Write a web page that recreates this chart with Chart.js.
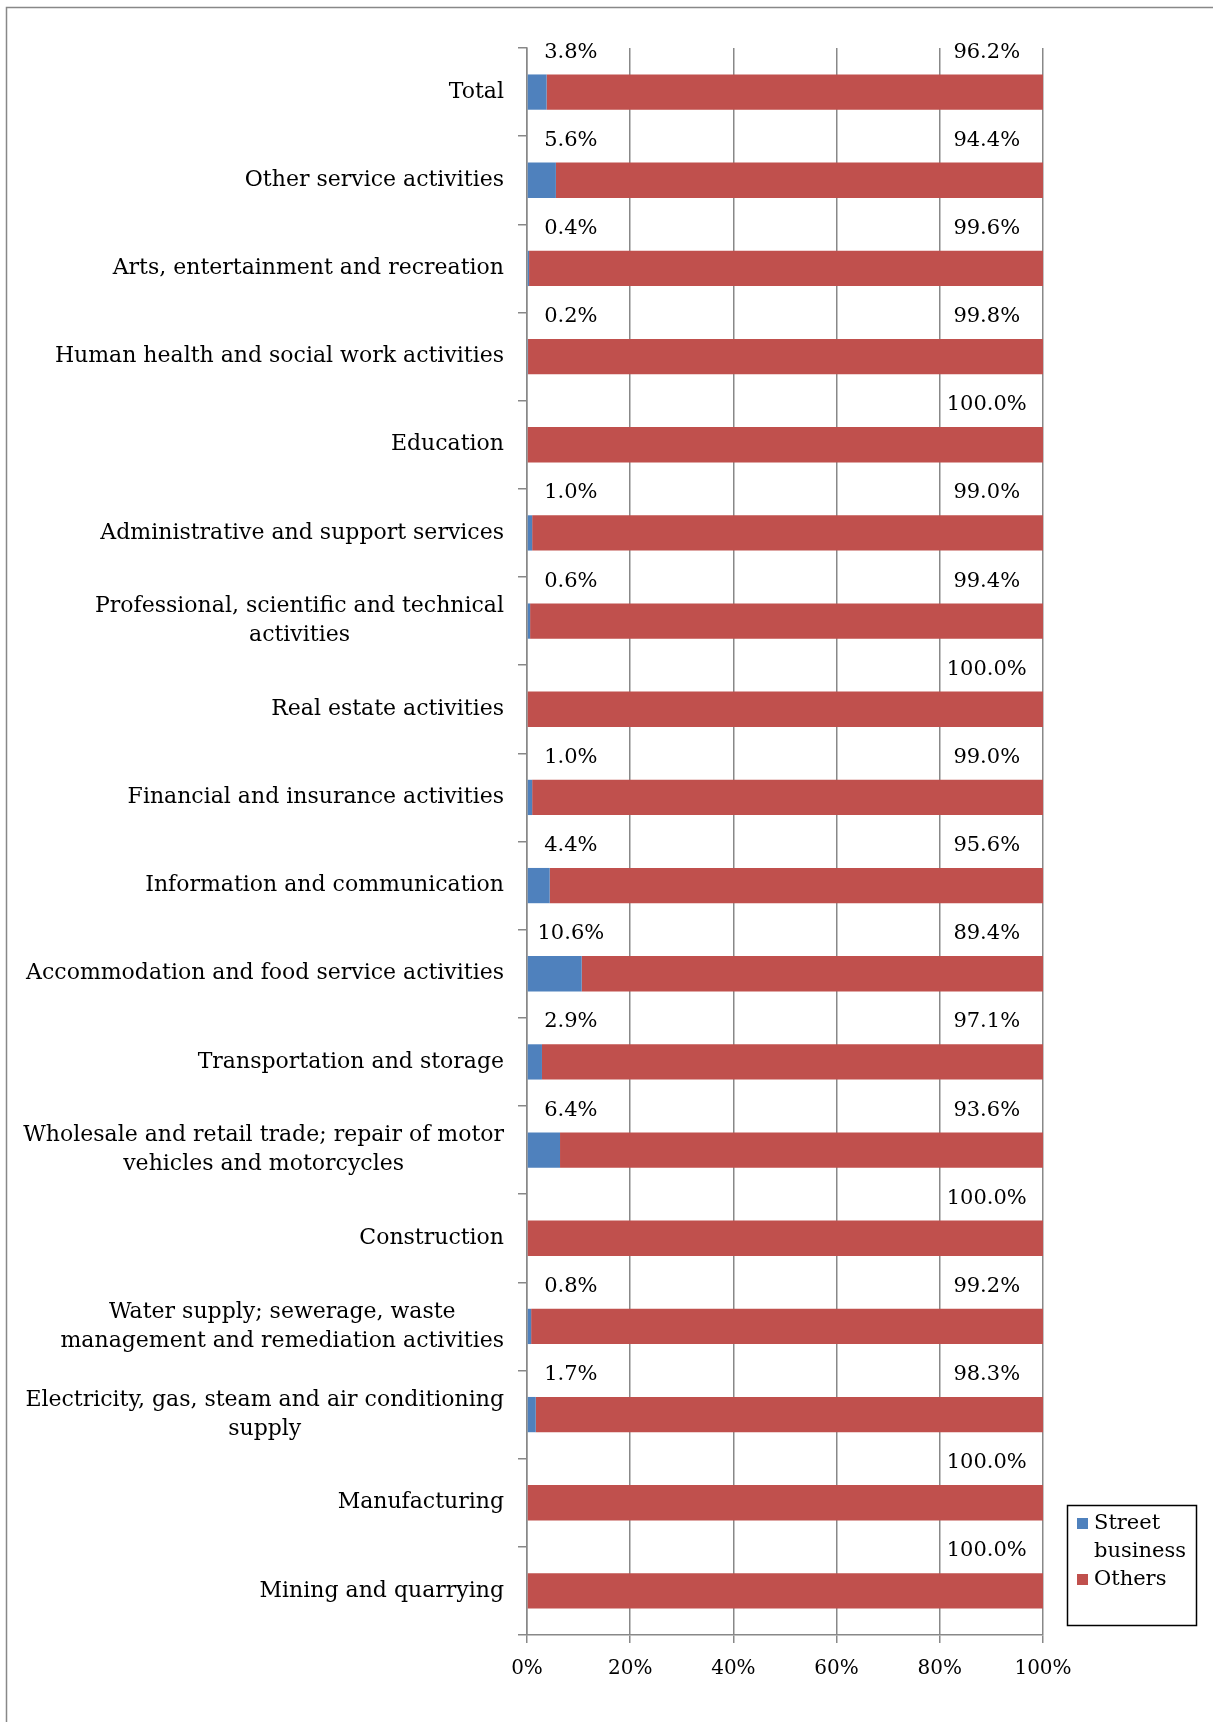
<!DOCTYPE html>
<html>
<head>
<meta charset="utf-8">
<script src="https://cdn.jsdelivr.net/npm/chart.js@4.4.0/dist/chart.umd.min.js"></script>
<style>
  body { margin: 0; background: #fff; }
  #wrap { width: 1213px; height: 1722px; position: relative; }
</style>
</head>
<body>
<div id="wrap"><canvas id="chart" width="1213" height="1722"></canvas></div>
<script>
// categories (top to bottom)
var categories = [
    "Total",
    "Other service activities",
    "Arts, entertainment and recreation",
    "Human health and social work activities",
    "Education",
    "Administrative and support services",
    ["Professional, scientific and technical", "activities"],
    "Real estate activities",
    "Financial and insurance activities",
    "Information and communication",
    "Accommodation and food service activities",
    "Transportation and storage",
    ["Wholesale and retail trade; repair of motor", "vehicles and motorcycles"],
    "Construction",
    ["Water supply; sewerage, waste", "management and remediation activities"],
    ["Electricity, gas, steam and air conditioning", "supply"],
    "Manufacturing",
    "Mining and quarrying"
];
var streetBusiness = [3.8, 5.6, 0.4, 0.2, 0, 1.0, 0.6, 0, 1.0, 4.4, 10.6, 2.9, 6.4, 0, 0.8, 1.7, 0, 0];
var others = [96.2, 94.4, 99.6, 99.8, 100, 99.0, 99.4, 100, 99.0, 95.6, 89.4, 97.1, 93.6, 100, 99.2, 98.3, 100, 100];
var seriesNames = [["Street", "business"], ["Others"]];
var xTicks = [0, 20, 40, 60, 80, 100];

var FONT = "'DejaVu Serif', serif";
var GRID = "#888888";

//__________ 框線 (outer frame, cut off at right/bottom) __________//
var framePlugin = {
    id: "frame",
    beforeDraw: function(chart){
        var c = chart.ctx;
        c.save();
        c.fillStyle = "#fff";
        c.fillRect(0, 0, chart.width, chart.height);
        c.strokeStyle = GRID;
        c.lineWidth = 1.5;
        c.beginPath();
        c.moveTo(6.5, chart.height);
        c.lineTo(6.5, 7.5);
        c.lineTo(chart.width, 7.5);
        c.stroke();
        c.restore();
    }
};

//__________ 類別標籤 (centered lines, block right aligned) __________//
var catLabelPlugin = {
    id: "catLabels",
    afterDraw: function(chart){
        var c = chart.ctx;
        var ys = chart.scales.y;
        var right = ys.right - 23;
        c.save();
        c.font = "22px " + FONT;
        c.fillStyle = "#000";
        c.textAlign = "center";
        c.textBaseline = "middle";
        var lh = 29;
        for(var i=0; i<categories.length; i++){
            var lines = Array.isArray(categories[i]) ? categories[i] : [categories[i]];
            var w = 0;
            lines.forEach(function(l){ w = Math.max(w, c.measureText(l).width); });
            var cx = right - w/2;
            var y0 = ys.getPixelForTick(i) - (lines.length-1)*lh/2;
            for(var j=0; j<lines.length; j++){
                c.fillText(lines[j], cx, y0 + j*lh);
            }
        }
        c.restore();
    }
};

//__________ 數值標籤 __________//
var valueLabelPlugin = {
    id: "valueLabels",
    afterDatasetsDraw: function(chart){
        var c = chart.ctx;
        var xs = chart.scales.x;
        var spots = [8.5, 89.1]; // label centres in axis units
        c.save();
        c.font = "21px " + FONT;
        c.fillStyle = "#000";
        c.textAlign = "center";
        c.textBaseline = "middle";
        chart.data.datasets.forEach(function(ds, d){
            var meta = chart.getDatasetMeta(d);
            meta.data.forEach(function(bar, i){
                var v = ds.data[i];
                if(!v) return;
                c.fillText(v.toFixed(1) + "%", xs.getPixelForValue(spots[d]), bar.y - 40);
            });
        });
        c.restore();
    }
};

//__________ 圖例 __________//
var legendPlugin = {
    id: "boxLegend",
    afterDraw: function(chart){
        var c = chart.ctx;
        c.save();
        c.strokeStyle = "#000";
        c.lineWidth = 1.5;
        c.strokeRect(1067.5, 1505.5, 129, 120);
        c.font = "21px " + FONT;
        c.textBaseline = "middle";
        c.textAlign = "left";
        var y = 1524;
        chart.data.datasets.forEach(function(ds, d){
            c.fillStyle = ds.backgroundColor;
            c.fillRect(1077, y - 6, 11, 11);
            c.fillStyle = "#000";
            seriesNames[d].forEach(function(line){
                c.fillText(line, 1094, y);
                y += 28;
            });
        });
        c.restore();
    }
};

new Chart(document.getElementById("chart"), {
    type: "bar",
    data: {
        labels: categories,
        datasets: [
            { label: "Street business", data: streetBusiness, backgroundColor: "#4f81bd",
              barPercentage: 0.4, categoryPercentage: 1.0 },
            { label: "Others", data: others, backgroundColor: "#c0504d",
              barPercentage: 0.4, categoryPercentage: 1.0 }
        ]
    },
    options: {
        indexAxis: "y",
        responsive: false,
        animation: false,
        layout: { padding: { top: 48, left: 0, right: 170, bottom: 27 } },
        plugins: { legend: { display: false }, tooltip: { enabled: false } },
        scales: {
            x: {
                stacked: true,
                min: 0, max: 100,
                afterBuildTicks: function(scale){
                    scale.ticks = xTicks.map(function(v){ return { value: v }; });
                },
                afterFit: function(scale){ scale.height = 60; },
                grid: { color: GRID, lineWidth: 1.5, tickLength: 8, drawTicks: true },
                border: { display: true, color: GRID, width: 1.5 },
                ticks: {
                    padding: 14,
                    color: "#000",
                    font: { family: FONT, size: 20 },
                    callback: function(v){ return v + "%"; }
                }
            },
            y: {
                stacked: true,
                afterFit: function(scale){ scale.width = 527; },
                grid: { drawOnChartArea: false, offset: true, tickLength: 9, color: GRID, lineWidth: 1.5 },
                border: { display: true, color: GRID, width: 1.5 },
                ticks: { display: false }
            }
        }
    },
    plugins: [framePlugin, catLabelPlugin, valueLabelPlugin, legendPlugin]
});
</script>
</body>
</html>
